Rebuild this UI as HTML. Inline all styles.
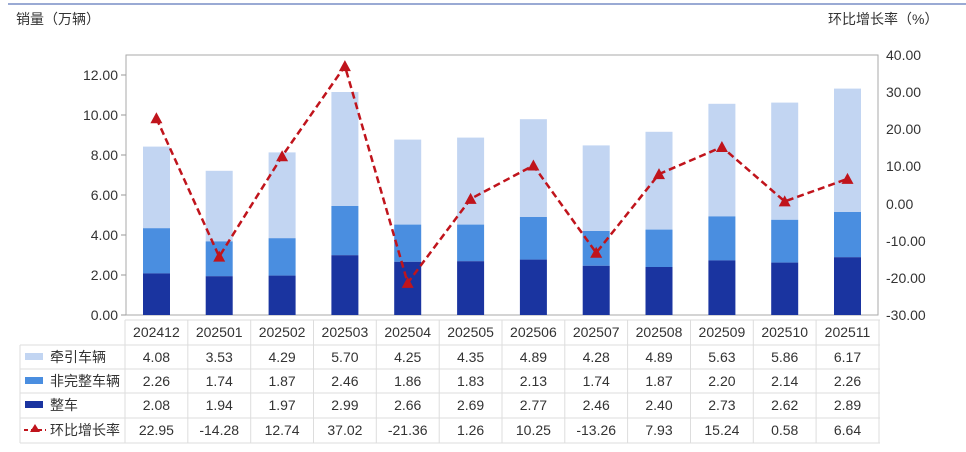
<!DOCTYPE html>
<html><head><meta charset="utf-8"><style>
body{margin:0;background:#fff;}
svg text{font-family:"Liberation Sans","Noto Sans CJK SC",sans-serif;fill:#333;}
</style></head><body>
<svg width="966" height="447" viewBox="0 0 966 447" xmlns="http://www.w3.org/2000/svg">
<line x1="8" y1="4" x2="966" y2="4" stroke="#9aaad4" stroke-width="2"/>
<text x="16" y="24" font-size="14">销量（万辆）</text>
<text x="828" y="24" font-size="14">环比增长率（%）</text>
<!-- plot frame -->
<rect x="126" y="55" width="752" height="260" fill="none" stroke="#aaa" stroke-width="1"/>
<!-- left ticks -->
<g font-size="14" text-anchor="end">
<text x="118" y="320">0.00</text><text x="118" y="280">2.00</text><text x="118" y="240">4.00</text><text x="118" y="200">6.00</text><text x="118" y="160">8.00</text><text x="118" y="120">10.00</text><text x="118" y="80">12.00</text>
</g>
<g stroke="#999"><line x1="121" y1="315" x2="126" y2="315"/><line x1="121" y1="275" x2="126" y2="275"/><line x1="121" y1="235" x2="126" y2="235"/><line x1="121" y1="195" x2="126" y2="195"/><line x1="121" y1="155" x2="126" y2="155"/><line x1="121" y1="115" x2="126" y2="115"/><line x1="121" y1="75" x2="126" y2="75"/></g>
<g font-size="14">
<text x="886" y="60">40.00</text><text x="886" y="97">30.00</text><text x="886" y="134">20.00</text><text x="886" y="171">10.00</text><text x="886" y="209">0.00</text><text x="886" y="246">-10.00</text><text x="886" y="283">-20.00</text><text x="886" y="320">-30.00</text>
</g>
<!-- bars -->
<g fill="#c2d5f2">
<rect x="143" y="146.6" width="27" height="81.6"/><rect x="205.7" y="170.8" width="27" height="70.6"/><rect x="268.6" y="152.4" width="27" height="85.8"/><rect x="331.4" y="92" width="27" height="114"/><rect x="394.2" y="139.6" width="27" height="85"/><rect x="457.1" y="137.6" width="27" height="87"/><rect x="519.9" y="119.2" width="27" height="97.8"/><rect x="582.7" y="145.4" width="27" height="85.6"/><rect x="645.5" y="131.8" width="27" height="97.8"/><rect x="708.4" y="103.8" width="27" height="112.6"/><rect x="771.2" y="102.6" width="27" height="117.2"/><rect x="834" y="88.6" width="27" height="123.4"/>
</g>
<g fill="#4a8ee0">
<rect x="143" y="228.2" width="27" height="45.2"/><rect x="205.7" y="241.4" width="27" height="34.8"/><rect x="268.6" y="238.2" width="27" height="37.4"/><rect x="331.4" y="206" width="27" height="49.2"/><rect x="394.2" y="224.6" width="27" height="37.2"/><rect x="457.1" y="224.6" width="27" height="36.6"/><rect x="519.9" y="217" width="27" height="42.6"/><rect x="582.7" y="231" width="27" height="34.8"/><rect x="645.5" y="229.6" width="27" height="37.4"/><rect x="708.4" y="216.4" width="27" height="44"/><rect x="771.2" y="219.8" width="27" height="42.8"/><rect x="834" y="212" width="27" height="45.2"/>
</g>
<g fill="#1a34a0">
<rect x="143" y="273.4" width="27" height="41.6"/><rect x="205.7" y="276.2" width="27" height="38.8"/><rect x="268.6" y="275.6" width="27" height="39.4"/><rect x="331.4" y="255.2" width="27" height="59.8"/><rect x="394.2" y="261.8" width="27" height="53.2"/><rect x="457.1" y="261.2" width="27" height="53.8"/><rect x="519.9" y="259.6" width="27" height="55.4"/><rect x="582.7" y="265.8" width="27" height="49.2"/><rect x="645.5" y="267" width="27" height="48"/><rect x="708.4" y="260.4" width="27" height="54.6"/><rect x="771.2" y="262.6" width="27" height="52.4"/><rect x="834" y="257.2" width="27" height="57.8"/>
</g>
<!-- line -->
<polyline fill="none" stroke="#c0141c" stroke-width="2.5" stroke-dasharray="7,4" points="156.4,118.3 219.2,256.6 282.1,156.2 344.9,66.1 407.7,282.9 470.6,198.9 533.4,165.5 596.2,252.8 659,174.1 721.9,147 784.7,201.4 847.5,178.9"/>
<g fill="#c0141c">
<path d="M156.4,112.3 l6,11 h-12z"/><path d="M219.2,250.6 l6,11 h-12z"/><path d="M282.1,150.2 l6,11 h-12z"/><path d="M344.9,60.1 l6,11 h-12z"/><path d="M407.7,276.9 l6,11 h-12z"/><path d="M470.6,192.9 l6,11 h-12z"/><path d="M533.4,159.5 l6,11 h-12z"/><path d="M596.2,246.8 l6,11 h-12z"/><path d="M659,168.1 l6,11 h-12z"/><path d="M721.9,141 l6,11 h-12z"/><path d="M784.7,195.4 l6,11 h-12z"/><path d="M847.5,172.9 l6,11 h-12z"/>
</g>
<!-- table grid -->
<g stroke="#ddd" stroke-width="1">
<line x1="125" y1="320" x2="880" y2="320"/>
<line x1="20" y1="345" x2="880" y2="345"/>
<line x1="20" y1="369" x2="880" y2="369"/>
<line x1="20" y1="393" x2="880" y2="393"/>
<line x1="20" y1="418" x2="880" y2="418"/>
<line x1="20" y1="443" x2="880" y2="443"/>
<line x1="20" y1="345" x2="20" y2="443"/>
<line x1="125" y1="320" x2="125" y2="443"/><line x1="187.8" y1="320" x2="187.8" y2="443"/><line x1="250.7" y1="320" x2="250.7" y2="443"/><line x1="313.5" y1="320" x2="313.5" y2="443"/><line x1="376.3" y1="320" x2="376.3" y2="443"/><line x1="439.2" y1="320" x2="439.2" y2="443"/><line x1="502" y1="320" x2="502" y2="443"/><line x1="564.8" y1="320" x2="564.8" y2="443"/><line x1="627.6" y1="320" x2="627.6" y2="443"/><line x1="690.5" y1="320" x2="690.5" y2="443"/><line x1="753.3" y1="320" x2="753.3" y2="443"/><line x1="816.1" y1="320" x2="816.1" y2="443"/><line x1="879" y1="320" x2="879" y2="443"/>
</g>
<!-- legend labels -->
<rect x="25" y="353" width="18" height="7" fill="#c2d5f2"/>
<rect x="25" y="377" width="18" height="7" fill="#4a8ee0"/>
<rect x="25" y="401" width="18" height="7" fill="#1a34a0"/>
<line x1="24" y1="430" x2="46" y2="430" stroke="#c0141c" stroke-width="2" stroke-dasharray="4,3"/>
<path d="M35,424 l5,8 h-10z" fill="#c0141c"/>
<g font-size="14">
<text x="50" y="362">牵引车辆</text><text x="50" y="386">非完整车辆</text><text x="50" y="410">整车</text><text x="50" y="435">环比增长率</text>
</g>
<g font-size="14" text-anchor="middle">
<text x="156.4" y="337">202412</text><text x="219.2" y="337">202501</text><text x="282.1" y="337">202502</text><text x="344.9" y="337">202503</text><text x="407.7" y="337">202504</text><text x="470.6" y="337">202505</text><text x="533.4" y="337">202506</text><text x="596.2" y="337">202507</text><text x="659" y="337">202508</text><text x="721.9" y="337">202509</text><text x="784.7" y="337">202510</text><text x="847.5" y="337">202511</text>
<text x="156.4" y="362">4.08</text><text x="219.2" y="362">3.53</text><text x="282.1" y="362">4.29</text><text x="344.9" y="362">5.70</text><text x="407.7" y="362">4.25</text><text x="470.6" y="362">4.35</text><text x="533.4" y="362">4.89</text><text x="596.2" y="362">4.28</text><text x="659" y="362">4.89</text><text x="721.9" y="362">5.63</text><text x="784.7" y="362">5.86</text><text x="847.5" y="362">6.17</text>
<text x="156.4" y="386">2.26</text><text x="219.2" y="386">1.74</text><text x="282.1" y="386">1.87</text><text x="344.9" y="386">2.46</text><text x="407.7" y="386">1.86</text><text x="470.6" y="386">1.83</text><text x="533.4" y="386">2.13</text><text x="596.2" y="386">1.74</text><text x="659" y="386">1.87</text><text x="721.9" y="386">2.20</text><text x="784.7" y="386">2.14</text><text x="847.5" y="386">2.26</text>
<text x="156.4" y="410">2.08</text><text x="219.2" y="410">1.94</text><text x="282.1" y="410">1.97</text><text x="344.9" y="410">2.99</text><text x="407.7" y="410">2.66</text><text x="470.6" y="410">2.69</text><text x="533.4" y="410">2.77</text><text x="596.2" y="410">2.46</text><text x="659" y="410">2.40</text><text x="721.9" y="410">2.73</text><text x="784.7" y="410">2.62</text><text x="847.5" y="410">2.89</text>
<text x="156.4" y="435">22.95</text><text x="219.2" y="435">-14.28</text><text x="282.1" y="435">12.74</text><text x="344.9" y="435">37.02</text><text x="407.7" y="435">-21.36</text><text x="470.6" y="435">1.26</text><text x="533.4" y="435">10.25</text><text x="596.2" y="435">-13.26</text><text x="659" y="435">7.93</text><text x="721.9" y="435">15.24</text><text x="784.7" y="435">0.58</text><text x="847.5" y="435">6.64</text>
</g>
</svg>
</body></html>
